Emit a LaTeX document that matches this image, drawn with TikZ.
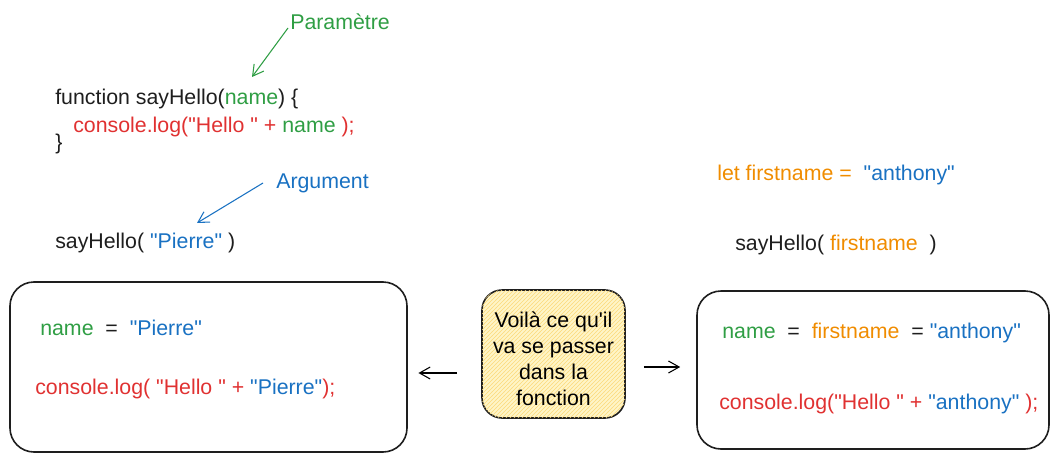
\documentclass[tikz,border=0pt]{standalone}
\usepackage{fontspec}
\setmainfont{Liberation Sans}[Ligatures=TeXOff]
\usetikzlibrary{arrows.meta,patterns}
\definecolor{gruen}{HTML}{2F9E44}
\definecolor{rot}{HTML}{E03131}
\definecolor{blau}{HTML}{1971C2}
\definecolor{orangeX}{HTML}{F08C00}
\definecolor{schwarz}{HTML}{1E1E1E}
\definecolor{gelb}{HTML}{FFEC99}
\tikzset{
	code/.style={anchor=base west, inner sep=0pt, text=schwarz,
		font=\fontsize{16}{19}\selectfont},
	boite/.style={draw=schwarz, line width=1.2pt, rounded corners=18pt},
	fleche/.style={-{Straight Barb[length=8pt,width=9pt]}, line width=0.8pt}
}
\begin{document}
\begin{tikzpicture}[x=0.75pt, y=-0.75pt]
	\useasboundingbox (0,0) rectangle (1059,460);
	% Code links oben
	\node[code, text=gruen] (parametre) at (290,30) {Paramètre};
	\node[code] (fonction) at (55,104)
		{function sayHello(\textcolor{gruen}{name}) \{};
	\node[code, text=rot] (console) at (73,132)
		{console.log("Hello " + \textcolor{gruen}{name} );};
	\node[code] (accolade) at (55,149) {\}};
	\node[code, text=blau] (argument) at (276,188) {Argument};
	\node[code] (appel) at (55,248)
		{sayHello( \textcolor{blau}{"Pierre"} )};
	% Pfeile
	\coordinate (zielP) at (252,77);
	\coordinate (zielA) at (197,223);
	\draw[fleche, gruen] ([shift={(-2,-2)}]parametre.base west) -- (zielP);
	\draw[fleche, blau] ([shift={(-13,-5)}]argument.base west) -- (zielA);
	% Code rechts oben
	\node[code, text=orangeX] (let) at (717,180)
		{let firstname = \ \textcolor{blau}{"anthony"}};
	\node[code] (appel2) at (735,250)
		{sayHello( \textcolor{orangeX}{firstname} \ )};
	% Boxen
	\node[boite, minimum width=297.75pt, minimum height=127.5pt] (links)
		at (208.5,367) {};
	\node[code, text=blau] (nameL) at (40,335)
		{\textcolor{gruen}{name} \ \textcolor{schwarz}{=} \ "Pierre"};
	\node[code, text=rot] (consoleL) at (35,394)
		{console.log( "Hello " + \textcolor{blau}{"Pierre"});};
	\node[boite, rounded corners=15pt, fill=gelb!55,
		postaction={pattern=north east lines, pattern color=gelb!80!orangeX},
		minimum width=107.25pt, minimum height=96pt] (note)
		at (553.5,354) {};
	\node[align=center, inner sep=0pt, font=\fontsize{16}{19.5}\selectfont]
		(notetext) at (553.5,359)
		{Voilà ce qu'il\\va se passer\\dans la\\fonction};
	\node[boite, minimum width=264pt, minimum height=118.5pt] (rechts)
		at (873,370) {};
	\node[code, text=gruen] (nameR) at (722,338)
		{name \ \textcolor{schwarz}{=} \ \textcolor{orangeX}{firstname} \
		\textcolor{schwarz}{=} \textcolor{blau}{"anthony"}};
	\node[code, text=rot] (consoleR) at (719,409)
		{console.log("Hello " + \textcolor{blau}{"anthony"} );};
	% Pfeile zu den Boxen
	\draw[fleche, shorten <=18pt, shorten >=8pt]
		(note.west |- 0,373) -- (links.east |- 0,373);
	\draw[fleche, shorten <=13.5pt, shorten >=12pt]
		(note.east |- 0,367) -- (rechts.west |- 0,367);
\end{tikzpicture}
\end{document}
